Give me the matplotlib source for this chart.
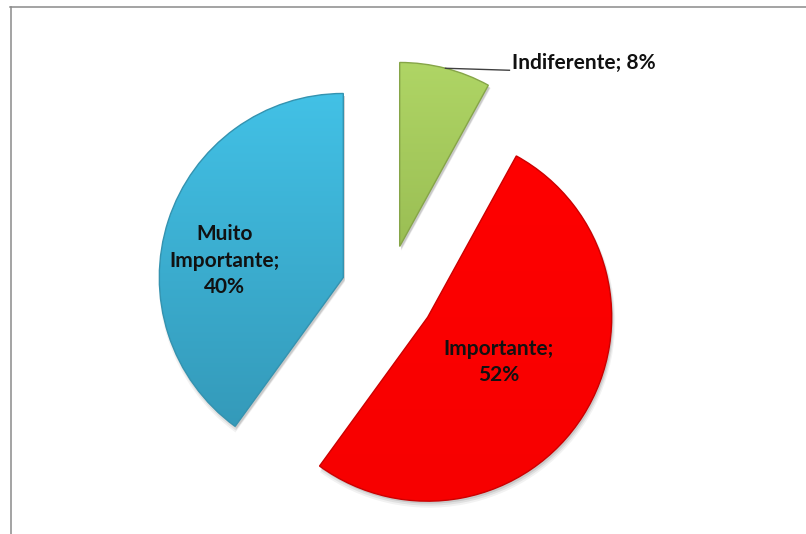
import matplotlib.pyplot as plt
import numpy as np
from matplotlib.patches import Wedge
from matplotlib.lines import Line2D

# survey answers (percent)
categories = ["Indiferente", "Importante", "Muito\nImportante"]
shares = [8, 52, 40]

top_colors = ["#AFD565", "#FF0000", "#42C1E6"]
bottom_colors = ["#86A843", "#F70000", "#3396B5"]
edge_colors = ["#86A548", "#CC0000", "#3493B0"]

W, H = 806, 534
RADIUS = 184
CENTER = (388, 242)
EXPLODE = 47

plt.rcParams['font.family'] = ['Lato', 'DejaVu Sans']

fig = plt.figure(figsize=(W / 100, H / 100), dpi=100)
fig.patch.set_facecolor('white')
ax = fig.add_axes([0, 0, 1, 1])

wedges, _ = ax.pie(shares, radius=RADIUS, center=CENTER,
                   explode=[EXPLODE] * len(shares), startangle=90,
                   counterclock=False, frame=True,
                   wedgeprops=dict(facecolor='none', linewidth=1.0, zorder=3))
ax.set_aspect('equal')
ax.axis('off')


def vertical_gradient(c_top, c_bot, n=256):
    a = np.array(plt.matplotlib.colors.to_rgb(c_top))
    b = np.array(plt.matplotlib.colors.to_rgb(c_bot))
    t = np.linspace(0, 1, n)[:, None]
    return (b * (1 - t) + a * t)[:, None, :]


for w, ct, cb, ce in zip(wedges, top_colors, bottom_colors, edge_colors):
    w.set_edgecolor(ce)
    cx, cy = w.center
    # soft drop shadow
    for k, alpha in enumerate([0.10, 0.07, 0.05]):
        sh = Wedge((cx + 1.5, cy - 2.5 - k), w.r + k, w.theta1, w.theta2,
                   facecolor='#000000', edgecolor='none', alpha=alpha, zorder=1)
        ax.add_patch(sh)
    # gradient fill clipped to the slice
    img = ax.imshow(vertical_gradient(ct, cb), origin='lower', aspect='auto',
                    extent=(cx - w.r, cx + w.r, cy - w.r, cy + w.r),
                    interpolation='bilinear', zorder=2)
    img.set_clip_path(w)

ax.set_xlim(0, W)
ax.set_ylim(0, H)

text_kw = dict(fontsize=15, fontweight='bold', color='#111111',
               ha='center', va='center', linespacing=1.4, zorder=5)


def slice_point(w, dist, dtheta=0.0):
    th = np.deg2rad((w.theta1 + w.theta2) / 2 + dtheta)
    return (w.center[0] + dist * w.r * np.cos(th),
            w.center[1] + dist * w.r * np.sin(th))


# inside labels
x, y = slice_point(wedges[1], 0.455)
ax.text(x, y, f"{categories[1]};\n{shares[1]}%", **text_kw)
x, y = slice_point(wedges[2], 0.65, dtheta=10)
ax.text(x, y, f"{categories[2]};\n{shares[2]}%", **text_kw)

# outside label with leader line
ax0, ay0 = slice_point(wedges[0], 1.0)
ax.plot([ax0, ax0 + 64], [ay0, ay0 - 2], color='#404040', lw=1.0, zorder=4)
ax.text(ax0 + 67, ay0 + 5, f"{categories[0]}; {shares[0]}%",
        **{**text_kw, 'ha': 'left'})

# chart frame (left and top edges)
fig.add_artist(Line2D([10.5 / W, 10.5 / W], [0, (H - 7) / H], color='#8A8A8A',
                      lw=1.1, transform=fig.transFigure))
fig.add_artist(Line2D([10 / W, 1], [(H - 7) / H, (H - 7) / H], color='#8A8A8A',
                      lw=1.1, transform=fig.transFigure))

fig.savefig('out.png', dpi=100)
